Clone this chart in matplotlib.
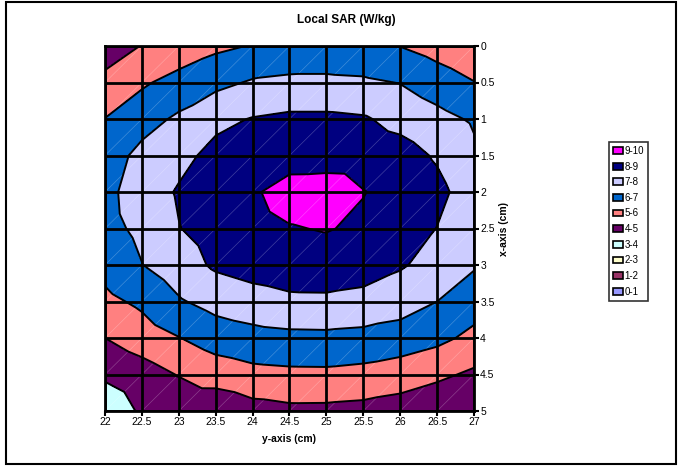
import numpy as np
import matplotlib
matplotlib.use("Agg")
import matplotlib.pyplot as plt
import matplotlib.tri as mtri
from matplotlib.patches import Patch, Rectangle

plt.rcParams['font.family'] = ['Liberation Sans', 'DejaVu Sans']

# grid positions (cm)
y_cm = [22, 22.5, 23, 23.5, 24, 24.5, 25, 25.5, 26, 26.5, 27]
x_cm = [0, 0.5, 1, 1.5, 2, 2.5, 3, 3.5, 4, 4.5, 5]

# local SAR (W/kg), one row per x value, columns follow y_cm
sar = [
    [4.55, 5.03, 5.30, 5.80, 6.05, 6.30, 6.35, 6.25, 5.98, 5.60, 5.20],
    [5.23, 5.85, 6.39, 6.75, 7.10, 7.20, 7.20, 7.15, 6.97, 6.50, 6.03],
    [6.02, 6.65, 7.15, 7.75, 8.05, 8.20, 8.20, 8.10, 7.70, 7.30, 6.88],
    [6.55, 7.25, 7.70, 8.30, 8.55, 8.62, 8.63, 8.60, 8.40, 7.89, 7.18],
    [6.75, 7.45, 8.10, 8.50, 8.89, 9.35, 9.40, 9.03, 8.70, 8.26, 7.50],
    [6.70, 7.22, 7.97, 8.40, 8.70, 8.95, 9.05, 8.85, 8.55, 7.98, 7.40],
    [6.35, 6.98, 7.55, 8.15, 8.40, 8.55, 8.60, 8.45, 8.10, 7.65, 7.10],
    [5.75, 6.20, 6.90, 7.35, 7.60, 7.80, 7.81, 7.70, 7.45, 7.00, 6.45],
    [5.00, 5.50, 5.97, 6.45, 6.65, 6.75, 6.77, 6.70, 6.55, 6.25, 5.75],
    [4.15, 4.55, 5.05, 5.47, 5.72, 5.79, 5.80, 5.70, 5.49, 5.20, 4.83],
    [3.40, 4.13, 4.22, 4.23, 4.63, 4.78, 4.77, 4.70, 4.55, 4.25, 4.10],
]

levels = [0, 1, 2, 3, 4, 5, 6, 7, 8, 9, 10]
band_labels = ['0-1', '1-2', '2-3', '3-4', '4-5', '5-6', '6-7', '7-8', '8-9', '9-10']
band_colors = ['#9999FF', '#993366', '#FFFFCC', '#CCFFFF', '#660066',
               '#FF8080', '#0066CC', '#CCCCFF', '#000080', '#FF00FF']

fig = plt.figure(figsize=(6.8, 4.67), dpi=100)
ax = fig.add_axes([105/680, 1-411/467, 369/680, 365/467])

# triangulate like excel : each cell cut bottom-left -> top-right
Y, X = np.meshgrid(y_cm, x_cm)
ny = len(y_cm)
nx = len(x_cm)
tris = []
for i in range(nx-1):
    for j in range(ny-1):
        a = i*ny + j
        b = i*ny + j + 1
        c = (i+1)*ny + j
        d = (i+1)*ny + j + 1
        tris.append([a, b, c])
        tris.append([b, d, c])
tri = mtri.Triangulation(Y.ravel(), X.ravel(), tris)
Z = np.array(sar).ravel()

ax.tricontourf(tri, Z, levels=levels, colors=band_colors, zorder=1)
ax.tricontour(tri, Z, levels=levels[1:-1], colors='black', linewidths=1.4, zorder=2)

# faint diagonals
for i in range(nx-1):
    for j in range(ny-1):
        ax.plot((y_cm[j], y_cm[j+1]), (x_cm[i+1], x_cm[i]), color='white',
                linewidth=0.5, alpha=0.25, zorder=1.5)

ax.set_xlim(22, 27)
ax.set_ylim(5, 0)
ax.set_xticks(y_cm)
ax.set_yticks(x_cm)
ax.set_xticklabels(['22', '22.5', '23', '23.5', '24', '24.5', '25', '25.5', '26', '26.5', '27'])
ax.set_yticklabels(['0', '0.5', '1', '1.5', '2', '2.5', '3', '3.5', '4', '4.5', '5'])
ax.yaxis.tick_right()
ax.yaxis.set_label_position('right')
ax.tick_params(axis='both', labelsize=7.5, length=3.5, width=1.5, pad=1, colors='black')
ax.grid(True, color='black', linewidth=2)
ax.set_axisbelow(False)
for s in ax.spines.values():
    s.set_linewidth(2)

ax.set_xlabel('y-axis (cm)', fontsize=7.5, fontweight='bold', labelpad=5)
ax.set_ylabel('x-axis (cm)', fontsize=7.5, fontweight='bold', labelpad=3)
fig.text(346/680, 1-20/467, 'Local SAR (W/kg)', fontsize=8.5, fontweight='bold',
         ha='center', va='center')

handles = [Patch(facecolor=band_colors[k], edgecolor='black', linewidth=1.2)
           for k in range(len(band_colors)-1, -1, -1)]
labels = band_labels[::-1]
leg = fig.legend(handles, labels, loc='upper left', bbox_to_anchor=(609/680, 1-142/467),
                 fontsize=7, handlelength=1.0, handleheight=0.7, handletextpad=0.2,
                 labelspacing=0.58, borderpad=0.4, borderaxespad=0, fancybox=False,
                 frameon=True)
leg.get_frame().set_edgecolor('black')
leg.get_frame().set_linewidth(1.2)

# chart border
fig.patches.append(Rectangle((6/680, 3/467), 670/680, 462/467, transform=fig.transFigure,
                             fill=False, edgecolor='black', linewidth=1.5))

fig.savefig('out.png', dpi=100)
